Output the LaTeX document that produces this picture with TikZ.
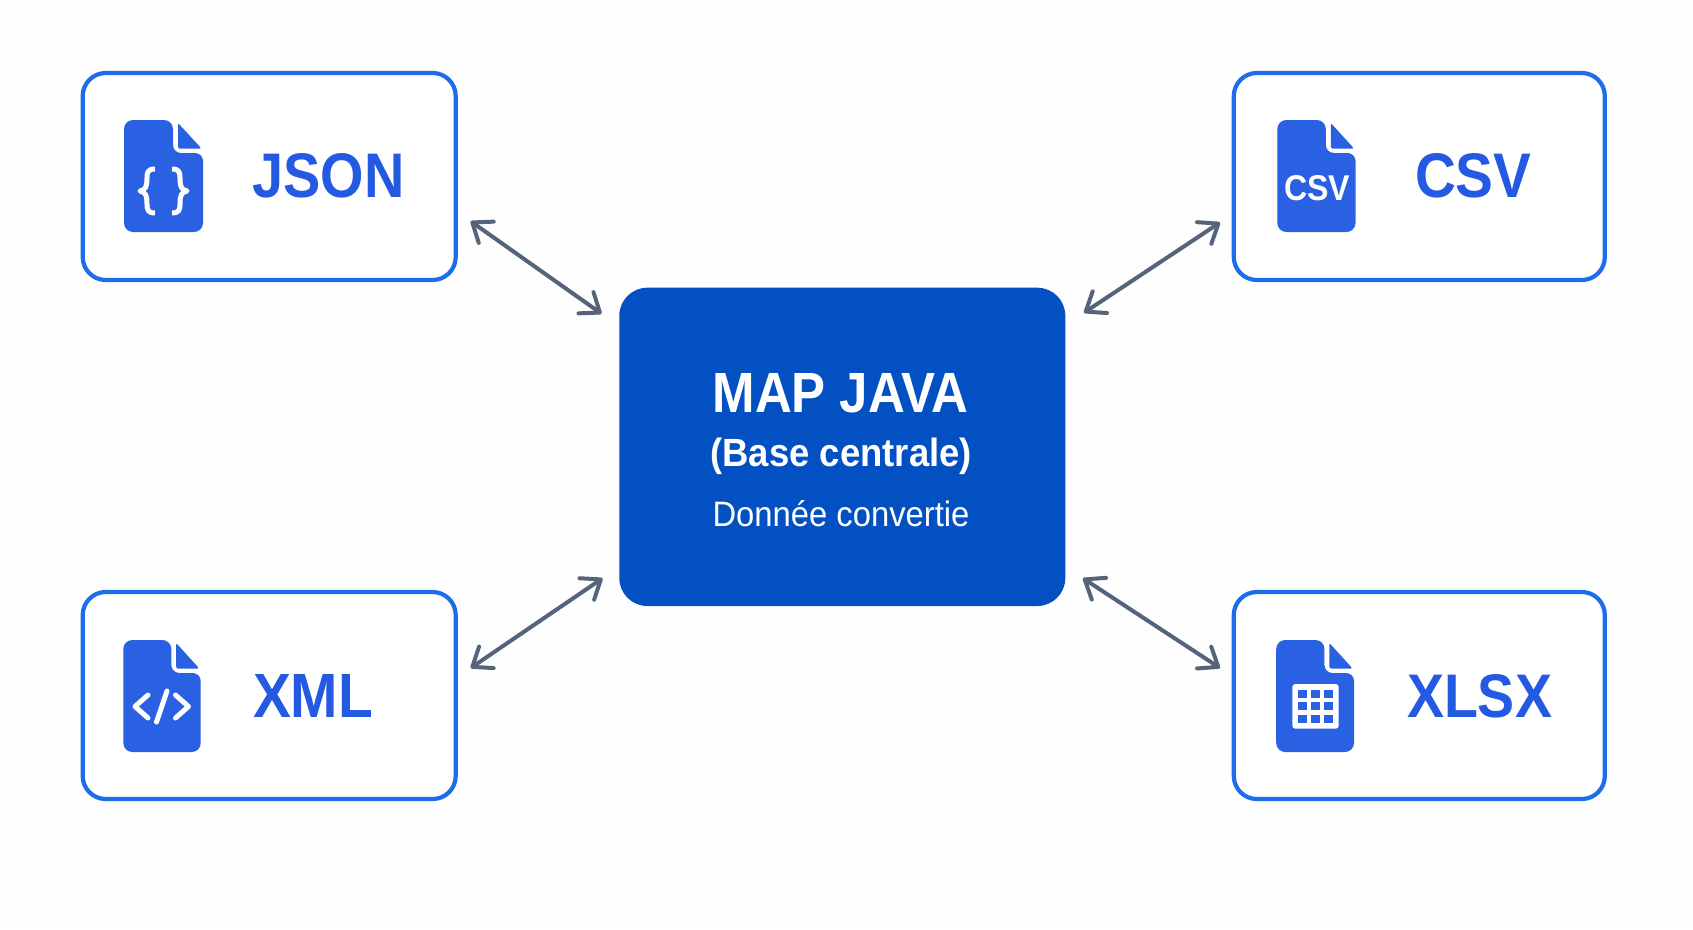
\documentclass[tikz,border=0pt]{standalone}
\usepackage{fontspec}
\usepackage{graphicx}
\setmainfont{Liberation Sans}
\usetikzlibrary{arrows.meta,calc}
\definecolor{strokeblue}{HTML}{1D6CEC}
\definecolor{iconblue}{HTML}{2A60E2}
\definecolor{textblue}{HTML}{2459E2}
\definecolor{coreblue}{HTML}{0350C2}
\definecolor{arrowgrey}{HTML}{56647A}
\definecolor{paper}{HTML}{FEFEFE}
\tikzset{
  fmtbox/.style={draw=strokeblue,line width=4.2pt,rounded corners=23pt,fill=white,outer sep=0pt,minimum height=207pt,inner sep=0pt,anchor=north west},
  corebox/.style={fill=coreblue,rounded corners=28pt,outer sep=0pt,minimum width=446pt,minimum height=318.3pt,inner sep=0pt,anchor=north west},
  lbl/.style={anchor=base west,inner sep=0pt,outer sep=0pt},
  bothway/.style={draw=arrowgrey,line width=4pt,{Straight Barb[length=17pt,width=26pt,line width=4pt,round]}-{Straight Barb[length=17pt,width=26pt,line width=4pt,round]}},
  glyphline/.style={draw=white,line width=5pt,line cap=round,line join=round},
  pics/docicon/.style={code={
    \fill[iconblue,rounded corners=9pt] (0,0) -- (49,0) -- (49,24) [rounded corners=8pt] -- (49,33) -- (79,33) [rounded corners=9pt] -- (79,112) -- (0,112) -- cycle;
    \fill[iconblue,rounded corners=1.5pt] (54,3) -- (77.5,28.5) -- (54,28.5) -- cycle;
  }},
}
\newcommand{\fit}[3]{\resizebox{#1pt}{#2pt}{#3}}
\begin{document}
\begin{tikzpicture}[x=1pt,y=-1pt]
\useasboundingbox (0,0) rectangle (1693,929);
\fill[paper] (0,0) rectangle (1693,929);
\node[fmtbox,minimum width=373pt] (json) at (82.7,73) {};
\node[fmtbox,minimum width=371pt] (csv) at (1233.8,73) {};
\node[fmtbox,minimum width=373pt] (xml) at (82.7,592) {};
\node[fmtbox,minimum width=371pt] (xlsx) at (1233.8,592) {};
\node[corebox] (core) at (619.3,287.7) {};
% icons
\pic at (124,120) {docicon};
\pic[xscale=0.99] at (1277.3,120) {docicon};
\pic[xscale=0.98] at (123.3,640) {docicon};
\pic[xscale=0.985] at (1276.2,640) {docicon};
% braces
\draw[glyphline,line cap=butt] (155,169) .. controls (148,169) and (147,172) .. (147,178) .. controls (147,186) and (146,190) .. (140,191) .. controls (146,192) and (147,196) .. (147,204) .. controls (147,210) and (148,213) .. (155,213);
\draw[glyphline,line cap=butt] (172,169) .. controls (179,169) and (180,172) .. (180,178) .. controls (180,186) and (181,190) .. (187,191) .. controls (181,192) and (180,196) .. (180,204) .. controls (180,210) and (179,213) .. (172,213);
% code
\draw[glyphline] (148,695) -- (135,706.5) -- (148,718);
\draw[glyphline] (167,691) -- (156.5,722);
\draw[glyphline] (175.5,695) -- (188.5,706.5) -- (175.5,718);
% grid
\fill[white,rounded corners=3pt] (1292.3,684) rectangle (1338.7,728.7);
\foreach \cx in {1297.7,1311,1324} \foreach \cy in {689.5,702.3,715.3}
  \fill[iconblue] (\cx,\cy) rectangle +(9,8);
% labels
\node[lbl,text=textblue] (tjson) at (252.5,197) {\fit{152}{44}{\bfseries JSON}};
\node[lbl,text=textblue] (tcsv) at (1415,197) {\fit{116.5}{44}{\bfseries CSV}};
\node[lbl,text=textblue] (txml) at (253,717) {\fit{120}{43}{\bfseries XML}};
\node[lbl,text=textblue] (txlsx) at (1407,717) {\fit{145}{43}{\bfseries XLSX}};
\node[lbl,text=white] (ticsv) at (1284,200) {\fit{66}{25}{\bfseries CSV}};
\node[lbl,text=white] (t1) at (712.5,412) {\fit{256}{39}{\bfseries MAP JAVA}};
\node[lbl,text=white] (t2) at (710.5,466.5) {\fit{261.5}{28.5}{\bfseries (Base centrale)}};
\node[lbl,text=white] (t3) at (712.5,526.7) {\fit{257}{26}{Donnée convertie}};
% connectors
\coordinate (ja) at ($(json.south east)+(15,-58.7)$);
\coordinate (jb) at ($(core.north west)+(-17.8,26)$);
\coordinate (ca) at ($(csv.south west)+(-13.8,-57.5)$);
\coordinate (cb) at ($(core.north east)+(18.7,25)$);
\coordinate (xa) at ($(xml.north east)+(15,76)$);
\coordinate (xb) at ($(core.south west)+(-16.8,-27.7)$);
\coordinate (sa) at ($(xlsx.north west)+(-13.8,76)$);
\coordinate (sb) at ($(core.south east)+(17.7,-27.7)$);
\draw[bothway] (ja) -- (jb);
\draw[bothway] (ca) -- (cb);
\draw[bothway] (xa) -- (xb);
\draw[bothway] (sa) -- (sb);
\end{tikzpicture}
\end{document}
